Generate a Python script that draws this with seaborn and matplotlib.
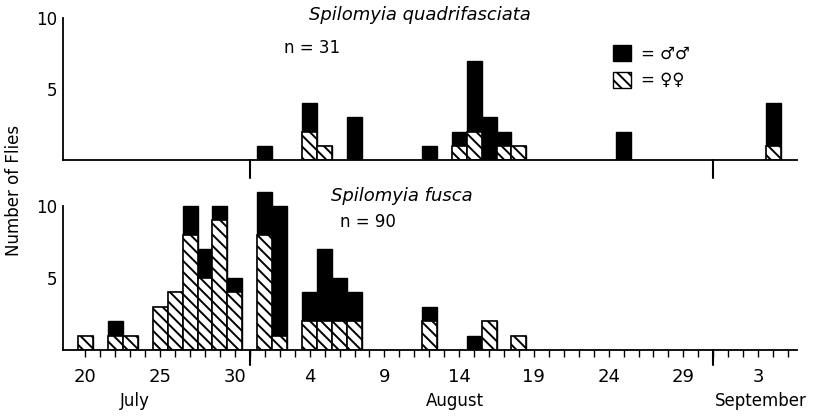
import matplotlib.pyplot as plt
import seaborn as sns
import pandas as pd
from matplotlib.patches import Patch
from matplotlib.transforms import blended_transform_factory

# дни считаются от 1 июля: 1 июля = 1, 1 августа = 32, 1 сентября = 63
quad_days = [32, 35, 36, 38, 43, 45, 46, 47, 48, 49, 56, 66]
quad_male = [1, 2, 0, 3, 1, 1, 5, 3, 1, 0, 2, 3]
quad_female = [0, 2, 1, 0, 0, 1, 2, 0, 1, 1, 0, 1]

fusca_days = [20, 22, 23, 25, 26, 27, 28, 29, 30, 32, 33, 35, 36, 37, 38, 43, 46, 47, 49]
fusca_male = [0, 1, 0, 0, 0, 2, 2, 1, 1, 3, 9, 2, 5, 3, 2, 1, 1, 0, 0]
fusca_female = [1, 1, 1, 3, 4, 8, 5, 9, 4, 8, 1, 2, 2, 2, 2, 2, 0, 2, 1]

tick_days = [20, 25, 30, 35, 40, 45, 50, 55, 60, 65]
tick_labels = ['20', '25', '30', '4', '9', '14', '19', '24', '29', '3']
month_ends = [31, 62]
months = [('July', 23.3), ('August', 44.7), ('September', 65.2)]

HATCH = '\\\\\\'

sns.set_theme(style='white')
plt.rcParams['font.family'] = ['DejaVu Sans']
plt.rcParams['hatch.linewidth'] = 1.4
plt.rcParams['text.color'] = 'black'
plt.rcParams['xtick.color'] = 'black'
plt.rcParams['ytick.color'] = 'black'
plt.rcParams['axes.labelcolor'] = 'black'

W, H = 818, 417
fig = plt.figure(figsize=(W / 100, H / 100), dpi=100)


def fx(px):
    return px / W


def fy(py):
    return 1 - py / H


ax_top = fig.add_axes([fx(63), fy(160), fx(797) - fx(63), fy(18) - fy(160)])
ax_bot = fig.add_axes([fx(63), fy(350), fx(797) - fx(63), fy(188.7) - fy(350)])


def draw_panel(ax, days, male, female, ymax):
    df = pd.DataFrame({'day': days, 'male': male, 'female': female})
    df['total'] = df['male'] + df['female']
    sns.barplot(data=df, x='day', y='total', native_scale=True, width=1,
                color='black', edgecolor='black', linewidth=1, saturation=1, ax=ax)
    fem = df[df['female'] > 0]
    sns.barplot(data=fem, x='day', y='female', native_scale=True, width=1,
                color='white', edgecolor='black', linewidth=1.2, saturation=1,
                hatch=HATCH, ax=ax)
    ax.set_xlim(18.5, 67.6)
    ax.set_ylim(0, ymax)
    ax.set_xlabel('')
    ax.set_ylabel('')
    for s in ['top', 'right']:
        ax.spines[s].set_visible(False)
    ax.spines['left'].set_bounds(0, 10)
    for s in ['left', 'bottom']:
        ax.spines[s].set_color('black')
        ax.spines[s].set_linewidth(1.3)
    ax.set_yticks([5, 10])
    ax.set_yticklabels(['5', '10'])
    ax.tick_params(axis='y', direction='in', length=8, width=1, labelsize=12, pad=4)


draw_panel(ax_top, quad_days, quad_male, quad_female, 10)
draw_panel(ax_bot, fusca_days, fusca_male, fusca_female, 11.2)

# верхняя панель: без делений, только длинные метки конца месяца
ax_top.set_xticks([])
tr = blended_transform_factory(ax_top.transData, ax_top.transAxes)
for d in month_ends:
    ax_top.plot([d, d], [0, -18 / 142], transform=tr, color='black', lw=1.5, clip_on=False)

# нижняя панель: деления на каждый день
ax_bot.set_xticks(tick_days)
ax_bot.set_xticklabels(tick_labels)
ax_bot.set_xticks(range(20, 68), minor=True)
ax_bot.tick_params(axis='x', which='both', bottom=True, direction='out', length=5,
                   width=1, labelsize=13, pad=8, color='black')
tr = blended_transform_factory(ax_bot.transData, ax_bot.transAxes)
for d in month_ends:
    ax_bot.plot([d, d], [0, -15 / 161.3], transform=tr, color='black', lw=1.5, clip_on=False)
for name, d in months:
    ax_bot.text(d, -51 / 161.3, name, transform=tr, ha='center', va='center', fontsize=12)

fig.text(fx(420), fy(15), 'Spilomyia quadrifasciata', style='italic', fontsize=13,
         ha='center', va='center')
fig.text(fx(312), fy(48), 'n = 31', fontsize=12, ha='center', va='center')
fig.text(fx(402), fy(196), 'Spilomyia fusca', style='italic', fontsize=13,
         ha='center', va='center')
fig.text(fx(368), fy(222), 'n = 90', fontsize=12, ha='center', va='center')
fig.text(fx(14), fy(190), 'Number of Flies', rotation=90, fontsize=12,
         ha='center', va='center')

handles = [Patch(facecolor='black', edgecolor='black'),
           Patch(facecolor='white', edgecolor='black', hatch=HATCH)]
fig.legend(handles, ['= ♂♂', '= ♀♀'], loc='upper left',
           bbox_to_anchor=(fx(598), fy(30)), frameon=False, fontsize=12,
           handlelength=1.1, handleheight=1.1, handletextpad=0.6, labelspacing=0.5)

fig.savefig('out.png', dpi=100)
plt.close()
